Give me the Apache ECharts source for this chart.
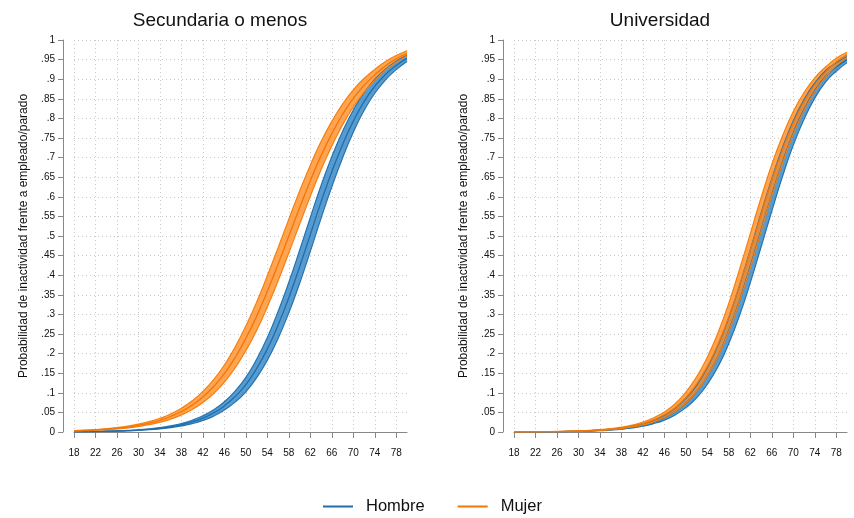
<!DOCTYPE html>
<html>
<head>
<meta charset="utf-8">
<script src="https://cdn.jsdelivr.net/npm/echarts@6/dist/echarts.min.js"></script>
<style>
  body { margin: 0; background: #fff; }
  #chart { width: 854px; height: 518px; }
</style>
</head>
<body>
<div id="chart"></div>
<script>
// edades (cada 2 años)
var ages = [18,20,22,24,26,28,30,32,34,36,38,40,42,44,46,48,50,52,54,56,58,60,62,64,66,68,70,72,74,76,78,80];

// probabilidades predichas
var hombreSec = [0.0007,0.0010,0.0013,0.0019,0.0026,0.0036,0.0050,0.0069,0.0096,0.0134,0.0185,0.0256,0.0355,0.0487,0.0666,0.0904,0.121,0.162,0.212,0.273,0.343,0.421,0.504,0.587,0.664,0.733,0.793,0.843,0.882,0.912,0.935,0.953];
var mujerSec  = [0.0030,0.0040,0.0054,0.0072,0.0096,0.0127,0.0170,0.0225,0.0299,0.0395,0.0522,0.0685,0.0895,0.116,0.149,0.190,0.239,0.295,0.359,0.428,0.500,0.572,0.641,0.705,0.761,0.810,0.851,0.884,0.911,0.934,0.952,0.966];
var hombreUni = [0.0002,0.0003,0.0004,0.0006,0.0009,0.0014,0.0020,0.0028,0.0041,0.0059,0.0086,0.0124,0.0178,0.0256,0.0365,0.052,0.074,0.103,0.143,0.194,0.259,0.336,0.423,0.515,0.605,0.689,0.763,0.823,0.871,0.907,0.931,0.950];
var mujerUni  = [0.0003,0.0004,0.0006,0.0008,0.0012,0.0017,0.0025,0.0036,0.0051,0.0074,0.0106,0.0152,0.0217,0.031,0.044,0.062,0.088,0.122,0.167,0.224,0.293,0.375,0.463,0.555,0.643,0.721,0.789,0.843,0.886,0.918,0.944,0.962];

// semi-amplitud del intervalo de confianza
var ciHombreSec = [0.0001,0.0001,0.0002,0.0003,0.0005,0.0006,0.0008,0.0012,0.0016,0.0023,0.0031,0.0043,0.0059,0.0081,0.0107,0.0141,0.0184,0.0235,0.0289,0.0343,0.0389,0.0420,0.0431,0.0419,0.0385,0.0338,0.0283,0.0229,0.0179,0.0138,0.0105,0.0077];
var ciMujerSec  = [0.0005,0.0007,0.0009,0.0013,0.0016,0.0022,0.0029,0.0038,0.0051,0.0066,0.0085,0.0110,0.0140,0.0177,0.0219,0.0266,0.0314,0.0359,0.0397,0.0422,0.0431,0.0422,0.0397,0.0359,0.0314,0.0266,0.0219,0.0177,0.0140,0.0109,0.0085,0.0067];
var ciHombreUni = [0.0000,0.0000,0.0001,0.0001,0.0001,0.0002,0.0003,0.0005,0.0007,0.0010,0.0015,0.0021,0.0030,0.0043,0.0061,0.0085,0.0118,0.0160,0.0212,0.0270,0.0331,0.0385,0.0421,0.0431,0.0412,0.0369,0.0312,0.0252,0.0194,0.0146,0.0107,0.0077];
var ciMujerUni  = [0.0000,0.0001,0.0001,0.0001,0.0002,0.0003,0.0005,0.0006,0.0009,0.0013,0.0018,0.0025,0.0037,0.0052,0.0072,0.0100,0.0138,0.0185,0.0240,0.0300,0.0358,0.0405,0.0429,0.0426,0.0396,0.0347,0.0288,0.0229,0.0175,0.0130,0.0094,0.0068];

var titles = ['Secundaria o menos', 'Universidad'];
var yName = 'Probabilidad de inactividad frente a empleado/parado';

var colors = {
  Hombre: { line: '#1f6fae', edge: '#2474b3', fill: 'rgba(45,130,195,0.8)' },
  Mujer:  { line: '#f27608', edge: '#f7800e', fill: 'rgba(255,138,32,0.78)' }
};

var chart = echarts.init(document.getElementById('chart'));

var grids = [
  { left: 74, top: 40, width: 333, height: 392 },
  { left: 514, top: 40, width: 333, height: 392 }
];

function fmtY(v) {
  if (v === 0) return '0';
  if (v >= 1) return '1';
  return String(+v.toFixed(2)).replace(/^0/, '');
}

var xAxes = [], yAxes = [], series = [];
for (var g = 0; g < 2; g++) {
  xAxes.push({
    gridIndex: g,
    type: 'category',
    data: ages,
    boundaryGap: false,
    offset: 8,
    axisLine: { lineStyle: { color: '#888', width: 1 } },
    axisTick: { interval: 1, length: 6, lineStyle: { color: '#888' } },
    axisLabel: { interval: 1, color: '#111', fontSize: 10, margin: 8 },
    splitLine: { show: true, interval: 1, lineStyle: { color: '#c8c8c8', type: [1, 3], width: 1 } }
  });
  yAxes.push({
    gridIndex: g,
    type: 'value',
    min: 0, max: 1, interval: 0.05,
    offset: 11,
    name: yName,
    nameLocation: 'middle',
    nameGap: 33,
    nameTextStyle: { color: '#111', fontSize: 12 },
    axisLine: { show: true, lineStyle: { color: '#888', width: 1 } },
    axisTick: { show: true, length: 5, lineStyle: { color: '#888' } },
    axisLabel: { color: '#111', fontSize: 10, margin: 8, formatter: fmtY },
    splitLine: { show: true, lineStyle: { color: '#c8c8c8', type: [1, 3], width: 1 } }
  });
}

function addBand(g, name, mid, ci) {
  var c = colors[name];
  var lower = mid.map(function (v, i) { return v - ci[i]; });
  var width = ci.map(function (v) { return 2 * v; });
  var stackId = 'band' + g + name;
  series.push({
    name: name + ' IC', type: 'line', xAxisIndex: g, yAxisIndex: g,
    data: lower, stack: stackId, smooth: true, symbol: 'none', silent: true,
    lineStyle: { color: c.edge, width: 1.2 }
  });
  series.push({
    name: name + ' IC', type: 'line', xAxisIndex: g, yAxisIndex: g,
    data: width, stack: stackId, smooth: true, symbol: 'none', silent: true,
    lineStyle: { color: c.edge, width: 1.2 },
    areaStyle: { color: c.fill, opacity: 1 }
  });
  series.push({
    name: name, type: 'line', xAxisIndex: g, yAxisIndex: g,
    data: mid, smooth: true, symbol: 'none',
    itemStyle: { color: c.line },
    lineStyle: { color: c.line, width: 1.3 }
  });
}

addBand(0, 'Hombre', hombreSec, ciHombreSec);
addBand(0, 'Mujer', mujerSec, ciMujerSec);
addBand(1, 'Hombre', hombreUni, ciHombreUni);
addBand(1, 'Mujer', mujerUni, ciMujerUni);

chart.setOption({
  animation: false,
  textStyle: { fontFamily: 'Liberation Sans, Arial, sans-serif' },
  title: [
    { text: titles[0], left: 215, top: 6, textAlign: 'center',
      textStyle: { fontSize: 19, fontWeight: 'normal', color: '#111' } },
    { text: titles[1], left: 655, top: 6, textAlign: 'center',
      textStyle: { fontSize: 19, fontWeight: 'normal', color: '#111' } }
  ],
  legend: {
    data: ['Hombre', 'Mujer'],
    left: 318, top: 493,
    icon: 'rect', itemWidth: 30, itemHeight: 2, itemGap: 33,
    textStyle: { fontSize: 16.5, color: '#111', padding: [0, 0, 0, 8] }
  },
  grid: grids,
  xAxis: xAxes,
  yAxis: yAxes,
  series: series
});
</script>
</body>
</html>
